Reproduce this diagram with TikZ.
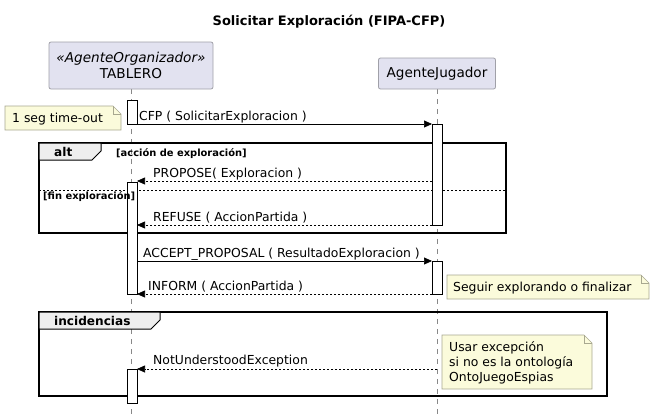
\documentclass[tikz,border=0pt]{standalone}
\usepackage{fontspec}
\setmainfont{DejaVu Sans}
\usetikzlibrary{arrows.meta,calc}
\definecolor{partfill}{HTML}{E2E2F0}
\definecolor{partdraw}{HTML}{A0A0A8}
\definecolor{notefill}{HTML}{FBFBDB}
\definecolor{notedraw}{HTML}{A8A890}
\definecolor{tabfill}{HTML}{EEEEEE}
\definecolor{lifecol}{HTML}{888888}
\tikzset{
  x=1pt, y=-1pt,
  msgtxt/.style={font=\fontsize{12.4}{14}\selectfont, anchor=base west, inner sep=0pt},
  part/.style={draw=partdraw, fill=partfill, rounded corners=2pt, line width=0.8pt, align=center, font=\fontsize{13.6}{16}\selectfont},
  life/.style={draw=lifecol, dash pattern=on 5pt off 5pt, line width=0.6pt},
  actbox/.style={draw=black, fill=white, line width=0.7pt},
  syncmsg/.style={draw=black, line width=0.7pt, -{Triangle[length=8pt,width=7pt]}},
  retmsg/.style={draw=black, line width=0.6pt, dash pattern=on 2pt off 2pt, -{Triangle[length=8pt,width=7pt]}},
  notebody/.style={draw=notedraw, fill=notefill, line width=0.6pt},
  frame/.style={draw=black, line width=1.4pt},
  tabsty/.style={draw=black, fill=tabfill, line width=1pt},
  tabtxt/.style={font=\bfseries\fontsize{12.1}{14}\selectfont, anchor=base west, inner sep=0pt},
  guardtxt/.style={font=\bfseries\fontsize{9.9}{11}\selectfont, anchor=base west, inner sep=0pt},
}
\newcommand{\notefold}[4]{% x1,y1,x2,y2
  \path[notebody] (#1,#2) -- (#3-8,#2) -- (#3,#2+8) -- (#3,#4) -- (#1,#4) -- cycle;
  \draw[notedraw, line width=0.6pt] (#3-8,#2) -- (#3-8,#2+8) -- (#3,#2+8);
}
\begin{document}
\begin{tikzpicture}
\useasboundingbox (0,0) rectangle (655,418);
% title
\node[font=\bfseries\fontsize{13}{15}\selectfont, inner sep=0pt] (title) at (329,22) {Solicitar Exploración (FIPA-CFP)};

% lifelines
\coordinate (tTop) at (131,89);
\coordinate (tBot) at (131,414);
\coordinate (jTop) at (437,89);
\coordinate (jBot) at (437,414);
\draw[life] (tTop) -- (tBot);
\draw[life] (jTop) -- (jBot);

% participants
\node[part, minimum width=164pt, minimum height=47pt, inner sep=0pt] (tab) at (131,65.5) {{\itshape «AgenteOrganizador»}\\TABLERO};
\node[part, minimum width=117pt, minimum height=31pt, inner sep=0pt] (jug) at (437,73.5) {AgenteJugador};

% frames
\draw[frame] (39,143) rectangle (506,233);
\path[tabsty] (39,143) -- (101,143) -- (101,151) -- (92,160) -- (39,160) -- cycle;
\node[tabtxt] (alttxt) at (54,156) {alt};
\node[guardtxt] (g1) at (116,156) {[acción de exploración]};
\draw[black, line width=0.6pt, dash pattern=on 2pt off 2pt] (39,190) -- (506,190);

\draw[frame] (39,312) rectangle (607,396);
\path[tabsty] (39,312) -- (160,312) -- (160,320) -- (151,329) -- (39,329) -- cycle;
\node[tabtxt] (inctxt) at (54,325) {incidencias};

% activations
\node[actbox, minimum width=10pt, minimum height=24pt, inner sep=0pt] (a1) at (132,112) {};
\node[actbox, minimum width=10pt, minimum height=112pt, inner sep=0pt] (a2) at (132,238) {};
\node[actbox, minimum width=10pt, minimum height=101pt, inner sep=0pt] (b1) at (437,174.5) {};
\node[actbox, minimum width=10pt, minimum height=33pt, inner sep=0pt] (b2) at (437,277.5) {};
\node[actbox, minimum width=10pt, minimum height=34pt, inner sep=0pt] (a3) at (132,386) {};

\node[guardtxt] (g2) at (43,199.5) {[fin exploración]};

% messages
\coordinate (m1s) at (137,124); \coordinate (m1e) at (432,124);
\draw[syncmsg] (m1s) -- (m1e);
\node[msgtxt] (l1) at (139,120) {CFP ( SolicitarExploracion )};

\coordinate (m2s) at (432,181); \coordinate (m2e) at (137,181);
\draw[retmsg] (m2s) -- (m2e);
\node[msgtxt] (l2) at (153,177) {PROPOSE( Exploracion )};

\coordinate (m3s) at (432,225); \coordinate (m3e) at (137,225);
\draw[retmsg] (m3s) -- (m3e);
\node[msgtxt] (l3) at (153,221) {REFUSE ( AccionPartida )};

\coordinate (m4s) at (137,261); \coordinate (m4e) at (432,261);
\draw[syncmsg] (m4s) -- (m4e);
\node[msgtxt] (l4) at (143,257) {ACCEPT\_PROPOSAL ( ResultadoExploracion )};

\coordinate (m5s) at (432,294); \coordinate (m5e) at (137,294);
\draw[retmsg] (m5s) -- (m5e);
\node[msgtxt] (l5) at (148,290) {INFORM ( AccionPartida )};

\coordinate (m6s) at (437,369); \coordinate (m6e) at (137,369);
\draw[retmsg] (m6s) -- (m6e);
\node[msgtxt] (l6) at (153,364) {NotUnderstoodException};

% notes
\notefold{5}{106}{121}{130}
\node[msgtxt] (n1) at (12,122.5) {1 seg time-out};
\notefold{447}{275}{649}{299}
\node[msgtxt] (n2) at (453,291.5) {Seguir explorando o finalizar};
\notefold{442}{335}{592}{389}
\node[msgtxt] (n3a) at (449,351.5) {Usar excepción};
\node[msgtxt] (n3b) at (449,366.5) {si no es la ontología};
\node[msgtxt] (n3c) at (449,381.5) {OntoJuegoEspias};
\end{tikzpicture}
\end{document}
